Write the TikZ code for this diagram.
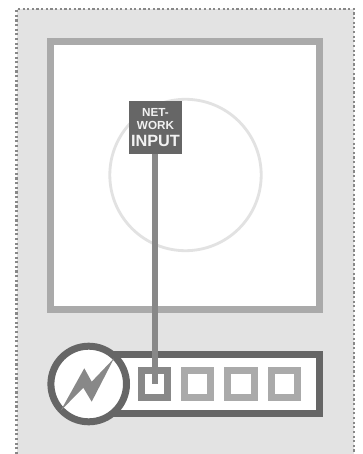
\documentclass[tikz,border=0pt]{standalone}
\usepackage{fontspec}
\setmainfont{Liberation Sans}
\usetikzlibrary{positioning}
\definecolor{panelgray}{HTML}{E3E3E3}
\definecolor{darkgray}{HTML}{666666}
\definecolor{midgray}{HTML}{888888}
\definecolor{lightgray}{HTML}{AAAAAA}
\definecolor{ringgray}{HTML}{E2E2E2}
\definecolor{labelgray}{HTML}{F2F2F2}
\begin{document}
\begin{tikzpicture}[
  x=1pt, y=-1pt,
  chip/.style={rectangle, draw=lightgray, fill=white, line width=7pt, inner sep=0pt, minimum size=26.3pt},
  arr/.style={draw=midgray, line width=6pt},
]
\useasboundingbox (0,0) rectangle (363,454);
\fill[panelgray] (16.5,9) rectangle (354,454);
\draw[midgray, line width=2.2pt, dash pattern=on 2.2pt off 2.45pt] (16.5,454) -- (16.5,9) -- (354,9) -- (354,454);

\node[rectangle, draw=lightgray, fill=white, line width=7pt, inner sep=0pt, minimum width=269pt, minimum height=268.5pt] (chassis) at (185,175.7) {};
\node[circle, draw=ringgray, line width=2.8pt, inner sep=0pt, minimum size=151.4pt] (ring) at (185.5,175) {};

\node[rectangle, draw=darkgray, fill=white, line width=7pt, inner sep=0pt, minimum width=229pt, minimum height=59.3pt] (bar) at (204.7,384.1) {};
\node[circle, draw=darkgray, fill=white, line width=7pt, inner sep=0pt, minimum size=75.6pt] (power) at (88.7,384) {};
\fill[midgray] (60.7,410.7) -- (84.3,368.3) -- (91.7,381.7) -- (114,358.3) -- (91.7,401.7) -- (83.3,387.7) -- cycle;

\node[chip, draw=midgray] (port1) at (154.3,384) {};
\node[chip, right=10pt of port1] (port2) {};
\node[chip, right=10pt of port2] (port3) {};
\node[chip, right=10pt of port3] (port4) {};

\node[rectangle, fill=darkgray, text=labelgray, inner sep=0pt, minimum size=53pt, align=center, font=\bfseries\fontsize{11.7}{13.5}\selectfont] (input) at (155.5,127.5) {%
  NET-\\WORK\\[3pt]\fontsize{16.3}{13.5}\selectfont INPUT};
\coordinate (portin) at (port1.center);
\draw[arr] (input.south -| portin) ++(0.4,0) coordinate (linetop) -- (linetop |- portin);
\end{tikzpicture}
\end{document}
